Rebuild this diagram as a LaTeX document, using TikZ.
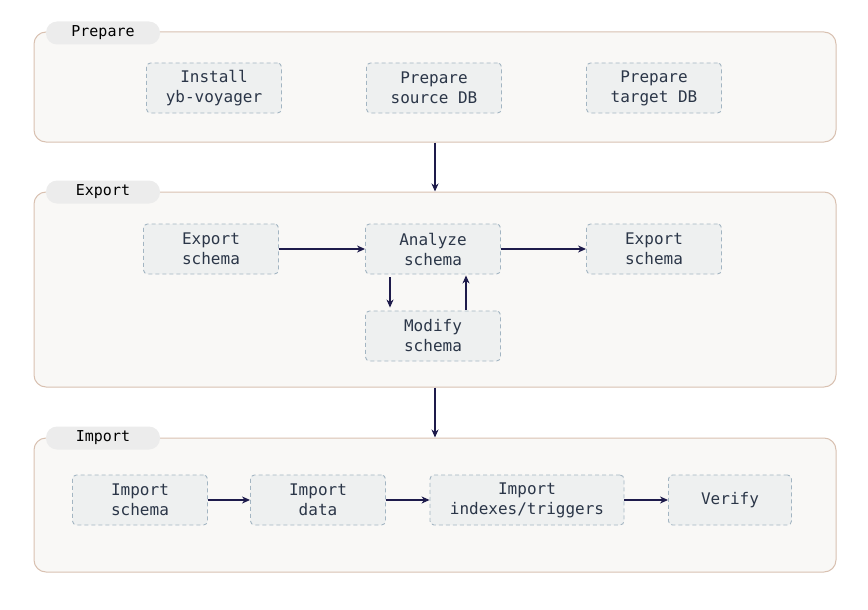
\documentclass[tikz,border=0pt]{standalone}
\usepackage{fontspec}
\setmonofont{DejaVu Sans Mono}
\usetikzlibrary{arrows.meta,positioning}
\definecolor{grpfill}{HTML}{F9F8F6}
\definecolor{grpline}{HTML}{D9C1B1}
\definecolor{tabfill}{HTML}{ECECEC}
\definecolor{stepfill}{HTML}{EEF0F0}
\definecolor{stepline}{HTML}{A3B5C2}
\definecolor{txt}{HTML}{2B3648}
\definecolor{arr}{HTML}{1E1B4B}
\begin{document}
\begin{tikzpicture}[x=1pt, y=-1pt, >={Stealth[length=8pt,width=7pt,inset=2.5pt]},
  font=\ttfamily\fontsize{16}{20}\selectfont, text=txt,
  group/.style={draw=grpline, fill=grpfill, line width=1pt, rounded corners=12pt, minimum width=802pt, inner sep=0pt},
  tab/.style={fill=tabfill, rounded corners=11pt, minimum width=114pt, minimum height=23pt, inner sep=0pt, font=\ttfamily\fontsize{15}{18}\selectfont, text=black},
  stepbox/.style={draw=stepline, fill=stepfill, dash pattern=on 4pt off 3pt, line width=0.9pt, rounded corners=4pt, minimum width=135pt, minimum height=50pt, align=center, inner sep=0pt},
  flow/.style={->, draw=arr, line width=1.2pt}]
  \useasboundingbox (0,0) rectangle (868,610);
  % groups
  \node[group, minimum height=110pt] (prep) at (435,87) {};
  \node[group, minimum height=195pt] (exp) at (435,289.5) {};
  \node[group, minimum height=134pt] (imp) at (435,505) {};
  \node[tab] (tprep) at (103,33) {Prepare};
  \node[tab] (texp) at (103,192) {Export};
  \node[tab] (timp) at (103,438) {Import};
  % prepare
  \node[stepbox] (inst) at (214,88) {Install\\yb-voyager};
  \node[stepbox] (src) at (434,88) {Prepare\\source DB};
  \node[stepbox] (tgt) at (654,88) {Prepare\\target DB};
  % export
  \node[stepbox] (exps) at (211,249) {Export\\schema};
  \node[stepbox] (ana) at (433,249) {Analyze\\schema};
  \node[stepbox] (expt) at (654,249) {Export\\schema};
  \node[stepbox] (mod) at (433,336) {Modify\\schema};
  % import
  \node[stepbox] (imps) at (140,500) {Import\\schema};
  \node[stepbox] (impd) at (318,500) {Import\\data};
  \node[stepbox, minimum width=194pt] (impi) at (527,500) {Import\\indexes/triggers};
  \node[stepbox, minimum width=123pt] (ver) at (730,500) {Verify};
  \draw[flow] (prep.south) -- (exp.north);
  \draw[flow] (exp.south) -- (imp.north);
  \draw[flow] (exps) -- (ana); \draw[flow] (ana) -- (expt);
  \draw[flow, shorten <=3pt, shorten >=3pt] ([xshift=-43pt]ana.south) -- ([xshift=-43pt]mod.north);
  \draw[flow, shorten <=1pt, shorten >=1pt] ([xshift=33pt]mod.north) -- ([xshift=33pt]ana.south);
  \draw[flow] (imps) -- (impd); \draw[flow] (impd) -- (impi); \draw[flow] (impi) -- (ver);
\end{tikzpicture}
\end{document}
